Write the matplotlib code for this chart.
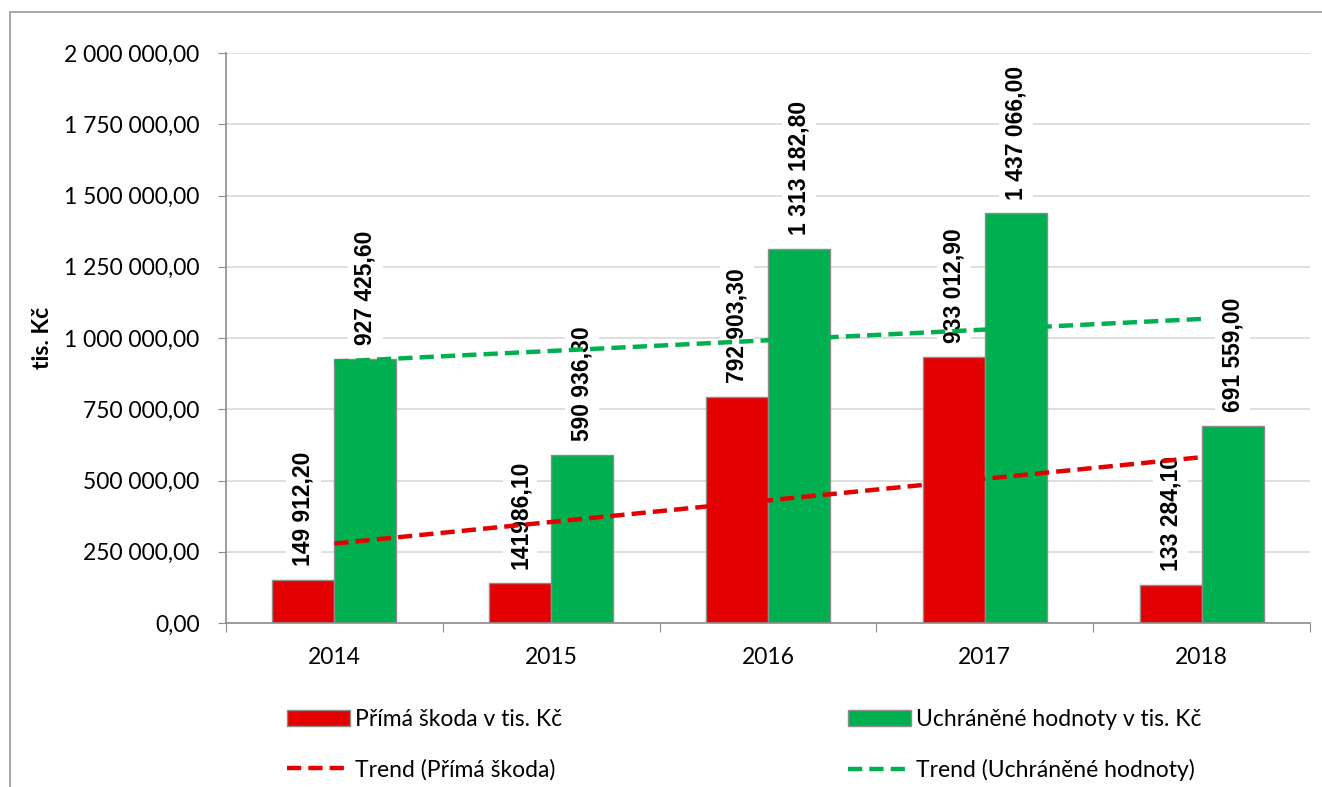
import numpy as np
import matplotlib
matplotlib.use('Agg')
import matplotlib.pyplot as plt
from matplotlib.patches import Patch, Rectangle
from matplotlib.lines import Line2D

years = ['2014', '2015', '2016', '2017', '2018']
prima_skoda = [149912.20, 141986.10, 792903.30, 933012.90, 133284.10]
uchranene = [927425.60, 590936.30, 1313182.80, 1437066.00, 691559.00]
# labels as shown in the source (2015 has no thousands gap there)
prima_labels = ['149 912,20', '141986,10', '792 903,30', '933 012,90', '133 284,10']
uchranene_labels = ['927 425,60', '590 936,30', '1 313 182,80', '1 437 066,00', '691 559,00']
y_ticks = [0, 250000, 500000, 750000, 1000000, 1250000, 1500000, 1750000, 2000000]

RED = '#E30000'
GREEN = '#00B050'
EDGE = '#8C8C8C'
FS = 16.5

plt.rcParams['font.family'] = ['Lato', 'DejaVu Sans']


def cz_format(v):
    s = '{:,.2f}'.format(v)
    return s.replace(',', ' ').replace('.', ',')


fig = plt.figure(figsize=(13.22, 7.87), dpi=100)
ax = fig.add_axes([226 / 1322, 1 - 623 / 787, 1084 / 1322, 570 / 787])

# outer chart border (runs off the right / bottom edge)
fig.patches.append(Rectangle((10 / 1322, -0.1), 1.2, 1 - 12 / 787 + 0.1,
                             transform=fig.transFigure, fill=False,
                             edgecolor='#9A9A9A', linewidth=1.2, zorder=0))

x = np.arange(len(years))
w = 0.286
ax.bar(x - w / 2, prima_skoda, w, color=RED, edgecolor=EDGE, linewidth=1, zorder=2)
ax.bar(x + w / 2, uchranene, w, color=GREEN, edgecolor=EDGE, linewidth=1, zorder=2)

# data labels
for xs, vals, labs in [(x - w / 2, prima_skoda, prima_labels), (x + w / 2, uchranene, uchranene_labels)]:
    for xi, v, lab in zip(xs, vals, labs):
        ax.annotate(lab, (xi, v), xytext=(0, 10), textcoords='offset points',
                    rotation=90, ha='center', va='bottom', fontsize=16.5,
                    fontweight='bold', family='Liberation Sans', zorder=3,
                    bbox=dict(boxstyle='square,pad=0.25', fc='white', ec='none'))

# linear trend lines
for vals, col in [(prima_skoda, RED), (uchranene, GREEN)]:
    k, q = np.polyfit(x, vals, 1)
    ax.plot([x[0], x[-1]], [q + k * x[0], q + k * x[-1]], color=col, lw=3.2,
            dashes=(3.2, 1.6), zorder=4)

ax.set_xlim(-0.5, len(years) - 0.5)
ax.set_ylim(0, 2000000)
ax.set_yticks(y_ticks)
ax.set_yticklabels([cz_format(v) for v in y_ticks], fontsize=FS)
ax.set_xticks(np.arange(len(years) + 1) - 0.5)
ax.set_xticklabels([])
ax.set_xticks(x, minor=True)
ax.set_xticklabels(years, minor=True, fontsize=FS)
ax.tick_params(axis='x', which='major', length=6.5, color=EDGE)
ax.tick_params(axis='x', which='minor', length=0, pad=17)
ax.tick_params(axis='y', length=6, color=EDGE, pad=13)
ax.grid(axis='y', color='#D9D9D9', linewidth=1.2, zorder=0)
ax.set_axisbelow(True)
for s in ['top', 'right']:
    ax.spines[s].set_visible(False)
for s in ['left', 'bottom']:
    ax.spines[s].set_color(EDGE)
    ax.spines[s].set_linewidth(1.2)

ax.set_ylabel('tis. Kč', fontsize=FS, fontweight='bold', labelpad=0)
ax.yaxis.set_label_coords(-0.16, 0.5)

# legend in two columns
h1 = [Patch(facecolor=RED, edgecolor=EDGE), Line2D([], [], color=RED, lw=3.2, dashes=(3.2, 1.6))]
h2 = [Patch(facecolor=GREEN, edgecolor=EDGE), Line2D([], [], color=GREEN, lw=3.2, dashes=(3.2, 1.6))]
leg_kw = dict(frameon=False, fontsize=FS, handlelength=2.75, handleheight=0.65,
              handletextpad=0.2, labelspacing=1.25, borderpad=0, borderaxespad=0,
              loc='upper left', bbox_transform=fig.transFigure)
leg1 = fig.legend(h1, ['Přímá škoda v tis. Kč', 'Trend (Přímá škoda)'],
                  bbox_to_anchor=(287 / 1322, 1 - 709 / 787), **leg_kw)
leg2 = fig.legend(h2, ['Uchráněné hodnoty v tis. Kč', 'Trend (Uchráněné hodnoty)'],
                  bbox_to_anchor=(848 / 1322, 1 - 709 / 787), **leg_kw)

fig.savefig('out.png', dpi=100)
